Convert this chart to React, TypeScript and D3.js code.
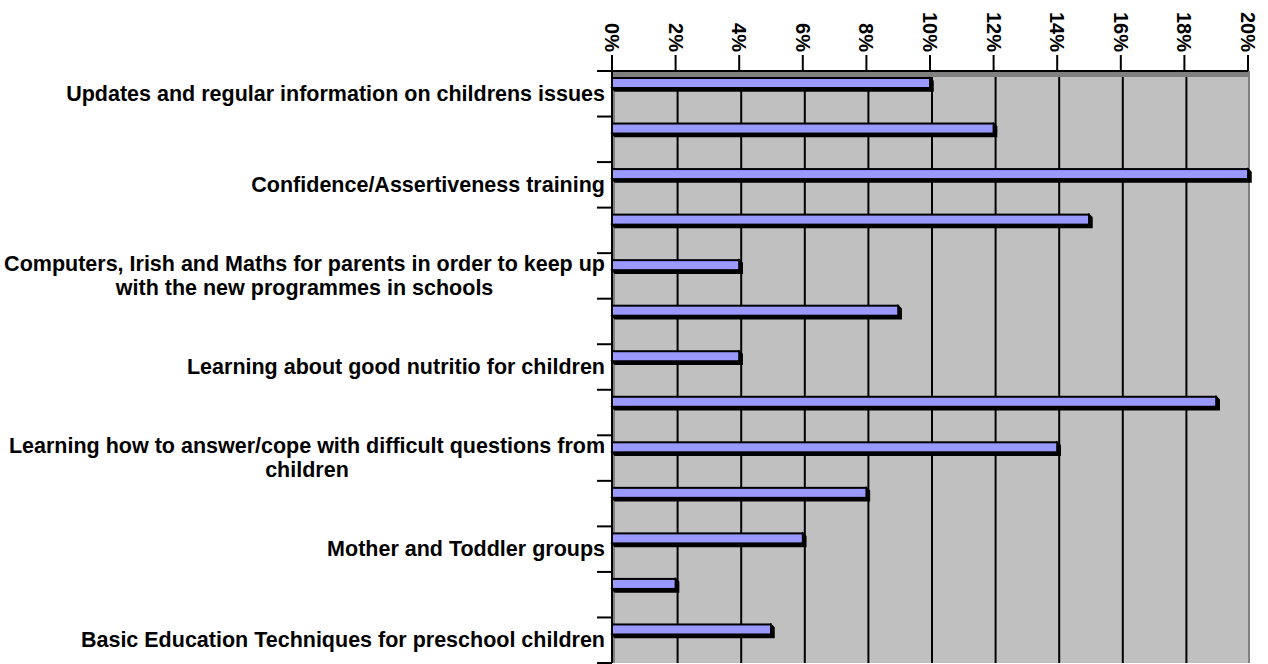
import React, { useEffect, useRef } from "react";
import * as d3 from "d3";

// categories top to bottom; "" = no label shown on the axis
const categories = [
  "Updates and regular information on childrens issues",
  "",
  "Confidence/Assertiveness training",
  "",
  "Computers, Irish and Maths for parents in order to keep up\nwith the new programmes in schools",
  "",
  "Learning about good nutritio for children",
  "",
  "Learning how to answer/cope with difficult questions from\nchildren",
  "",
  "Mother and Toddler groups",
  "",
  "Basic Education Techniques for preschool children",
];
const values = [10, 12, 20, 15, 4, 9, 4, 19, 14, 8, 6, 2, 5];
const tickValues = [0, 2, 4, 6, 8, 10, 12, 14, 16, 18, 20];

const W = 1268;
const H = 664;
const FONT = "'Liberation Sans', Arial, sans-serif";

export default function App() {
  const svgRef = useRef<SVGSVGElement>(null);

  useEffect(() => {
    document.body.style.margin = "0";
    const svg = d3.select(svgRef.current);
    svg.selectAll("*").remove();

    const left = 612;
    const right = 1248;
    const top = 71;
    const bottom = 663;
    const depth = 3;

    const x = d3.scaleLinear().domain([0, 20]).range([left, right]);
    const y = d3
      .scaleBand<number>()
      .domain(d3.range(categories.length))
      .range([top, bottom]);

    // back wall + depth bands
    svg.append("rect")
      .attr("x", left).attr("y", top).attr("width", right - left + 2).attr("height", bottom - top)
      .attr("fill", "#808080");
    svg.append("rect")
      .attr("x", left + depth).attr("y", top + 6).attr("width", right - left - depth).attr("height", bottom - top - 6)
      .attr("fill", "#c0c0c0");

    // gridlines
    svg.append("g")
      .selectAll("line")
      .data(tickValues.slice(1, -1))
      .join("line")
      .attr("x1", (d) => x(d) + 2).attr("x2", (d) => x(d) + 2)
      .attr("y1", top + 6).attr("y2", bottom)
      .attr("stroke", "#000").attr("stroke-width", 2);

    // top axis line + ticks + labels
    svg.append("line")
      .attr("x1", 597).attr("x2", right).attr("y1", top).attr("y2", top)
      .attr("stroke", "#000").attr("stroke-width", 2);
    const xt = svg.append("g").selectAll("g").data(tickValues).join("g");
    xt.append("line")
      .attr("x1", (d) => x(d)).attr("x2", (d) => x(d))
      .attr("y1", 55).attr("y2", top)
      .attr("stroke", "#000").attr("stroke-width", 2);
    xt.append("text")
      .attr("transform", (d) => `translate(${x(d)},52) rotate(90)`)
      .attr("text-anchor", "end")
      .attr("dominant-baseline", "central")
      .style("font-family", FONT)
      .style("font-weight", "bold")
      .style("font-size", "20px")
      .text((d) => `${d}%`);

    // bars
    const bars = svg.append("g").selectAll("g").data(values).join("g");
    const bh = 10;
    bars.append("path")
      .attr("d", (d, i) => {
        const yt = (y(i) as number) + 7;
        const yb = yt + bh;
        const xv = x(d);
        return `M${left},${yb} L${left + depth},${yb + depth} L${xv + depth},${yb + depth} L${xv + depth},${yt + depth} L${xv},${yt} L${xv},${yb} Z`;
      })
      .attr("fill", "#000")
      .attr("stroke", "#000")
      .attr("stroke-width", 1.5);
    bars.append("rect")
      .attr("x", left)
      .attr("y", (d, i) => (y(i) as number) + 7)
      .attr("width", (d) => x(d) - left)
      .attr("height", bh)
      .attr("fill", "#9999ff")
      .attr("stroke", "#000")
      .attr("stroke-width", 2);

    // left axis + ticks
    svg.append("line")
      .attr("x1", left).attr("x2", left).attr("y1", top).attr("y2", bottom)
      .attr("stroke", "#000").attr("stroke-width", 2);
    svg.append("g")
      .selectAll("line")
      .data(d3.range(categories.length + 1))
      .join("line")
      .attr("x1", 597).attr("x2", left)
      .attr("y1", (i) => top + i * y.step()).attr("y2", (i) => top + i * y.step())
      .attr("stroke", "#000").attr("stroke-width", 2);

    // category labels (multi-line labels are centred as a block, right edge at the axis)
    const lineH = 24;
    categories.forEach((c, i) => {
      if (!c) return;
      const lines = c.split("\n");
      const cy = (y(i) as number) + y.bandwidth() / 2;
      const g = svg.append("g");
      const texts = lines.map((ln, k) =>
        g.append("text")
          .attr("y", cy + (k - (lines.length - 1) / 2) * lineH)
          .attr("dominant-baseline", "central")
          .attr("text-anchor", "middle")
          .style("font-family", FONT)
          .style("font-weight", "bold")
          .style("font-size", "21.5px")
          .text(ln)
      );
      const maxW = d3.max(texts, (t) => (t.node() as SVGTextElement).getComputedTextLength()) || 0;
      const cx = 605 - maxW / 2;
      texts.forEach((t) => t.attr("x", cx));
    });
  }, []);

  return (
    <svg
      ref={svgRef}
      width={W}
      height={H}
      style={{ position: "absolute", left: 0, top: 0, background: "#fff" }}
    />
  );
}
